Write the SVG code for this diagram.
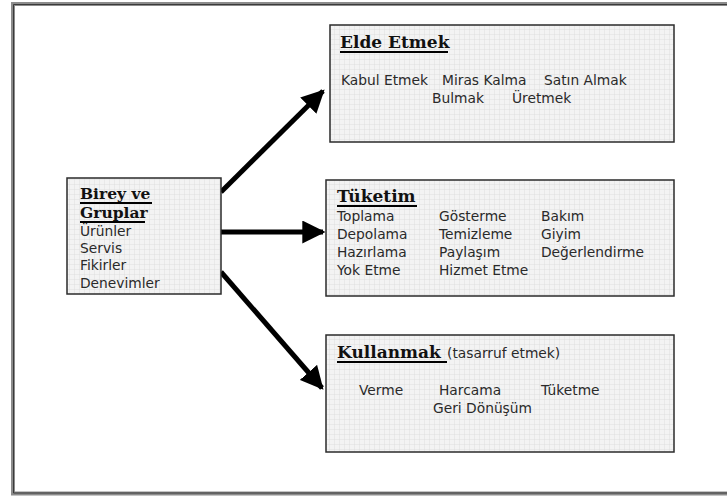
<svg xmlns="http://www.w3.org/2000/svg" width="727" height="497" viewBox="0 0 727 497">
  <defs>
    <pattern id="grid" width="5" height="5" patternUnits="userSpaceOnUse">
      <rect width="5" height="5" fill="#f3f3f3"/>
      <path d="M5 0V5M0 5H5" stroke="#d9d9d9" stroke-width="0.8" fill="none"/>
    </pattern>
    <marker id="head" viewBox="0 0 10 10" refX="9" refY="5" markerWidth="4.6" markerHeight="4.6" markerUnits="strokeWidth" orient="auto">
      <path d="M0 0L10 5L0 10z" fill="#000"/>
    </marker>
  </defs>
  <style>
    .box { fill: url(#grid); stroke: #2b2b2b; stroke-width: 1.5; }
    .title { font-family: "DejaVu Serif", "Liberation Serif", serif; font-weight: bold; font-size: 17px; fill: #111; }
    .small { font-size: 15.5px; }
    .ul { stroke: #000; stroke-width: 2.2; }
    .txt { font-family: "DejaVu Sans", Verdana, sans-serif; font-size: 13.8px; fill: #2a2a2a; }
    .arrow { stroke: #000; stroke-width: 5; fill: none; marker-end: url(#head); }
  </style>

  <rect width="727" height="497" fill="#fff"/>
  <!-- outer frame (double rule) -->
  <path d="M740 4H13V493.5H740" fill="none" stroke="#8c8c8c" stroke-width="4"/>
  <path d="M740 4.5H13.5V493H740" fill="none" stroke="#3a3a3a" stroke-width="1"/>

  <g id="connectors">
    <line class="arrow" x1="221" y1="192" x2="323" y2="91"/>
    <line class="arrow" x1="221" y1="232" x2="323" y2="232"/>
    <line class="arrow" x1="221" y1="272" x2="322" y2="388"/>
  </g>

  <g id="birey">
    <rect class="box" x="67" y="178" width="154" height="116"/>
    <text class="title small" x="80" y="199">Birey ve</text>
    <line class="ul" x1="80" y1="203" x2="152" y2="203"/>
    <text class="title small" x="80" y="218">Gruplar</text>
    <line class="ul" x1="80" y1="222" x2="145" y2="222"/>
    <text class="txt" x="80" y="236">Ürünler</text>
    <text class="txt" x="80" y="253">Servis</text>
    <text class="txt" x="80" y="270">Fikirler</text>
    <text class="txt" x="80" y="288">Denevimler</text>
  </g>

  <g id="elde-etmek">
    <rect class="box" x="330" y="25" width="344" height="117"/>
    <text class="title" x="340" y="48">Elde Etmek</text>
    <line class="ul" x1="340" y1="52" x2="448" y2="52"/>
    <text class="txt" x="341" y="85">Kabul Etmek</text>
    <text class="txt" x="442" y="85">Miras Kalma</text>
    <text class="txt" x="544" y="85">Satın Almak</text>
    <text class="txt" x="432" y="103">Bulmak</text>
    <text class="txt" x="512" y="103">Üretmek</text>
  </g>

  <g id="tuketim">
    <rect class="box" x="326" y="180" width="348" height="116"/>
    <text class="title" x="337" y="202">Tüketim</text>
    <line class="ul" x1="337" y1="206" x2="417" y2="206"/>
    <text class="txt" x="337" y="221">Toplama</text>
    <text class="txt" x="337" y="239">Depolama</text>
    <text class="txt" x="337" y="257">Hazırlama</text>
    <text class="txt" x="337" y="275">Yok Etme</text>
    <text class="txt" x="439" y="221">Gösterme</text>
    <text class="txt" x="439" y="239">Temizleme</text>
    <text class="txt" x="439" y="257">Paylaşım</text>
    <text class="txt" x="439" y="275">Hizmet Etme</text>
    <text class="txt" x="541" y="221">Bakım</text>
    <text class="txt" x="541" y="239">Giyim</text>
    <text class="txt" x="541" y="257">Değerlendirme</text>
  </g>

  <g id="kullanmak">
    <rect class="box" x="326" y="335" width="348" height="117"/>
    <text class="title" x="337" y="358">Kullanmak</text>
    <line class="ul" x1="337" y1="362" x2="447" y2="362"/>
    <text class="txt" x="447" y="358">(tasarruf etmek)</text>
    <text class="txt" x="359" y="395">Verme</text>
    <text class="txt" x="439" y="395">Harcama</text>
    <text class="txt" x="541" y="395">Tüketme</text>
    <text class="txt" x="433" y="413">Geri Dönüşüm</text>
  </g>
</svg>
